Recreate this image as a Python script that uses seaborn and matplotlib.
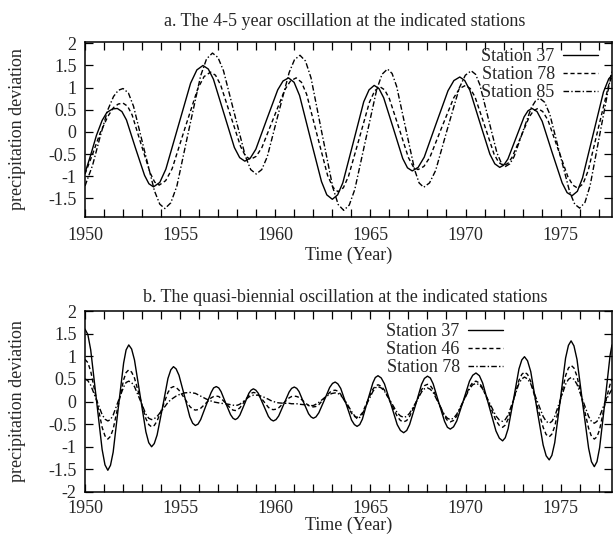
import matplotlib
matplotlib.use('Agg')
import matplotlib.pyplot as plt
import seaborn as sns
from matplotlib.ticker import MultipleLocator, FuncFormatter

# ---- panel a: 4-5 year oscillation ----
YEAR_A37 = [1950.0, 1950.3, 1950.6, 1950.9, 1951.15, 1951.45,
            1951.7, 1951.94, 1952.18, 1952.65, 1953.13, 1953.36,
            1953.6, 1953.93, 1954.25, 1954.9, 1955.55, 1955.88,
            1956.2, 1956.48, 1956.75, 1957.3, 1957.85, 1958.13,
            1958.4, 1958.69, 1958.98, 1959.55, 1960.13, 1960.41,
            1960.7, 1960.99, 1961.28, 1961.85, 1962.43, 1962.71,
            1963.0, 1963.28, 1963.55, 1964.1, 1964.65, 1964.93,
            1965.2, 1965.45, 1965.7, 1966.2, 1966.7, 1966.95,
            1967.2, 1967.51, 1967.83, 1968.45, 1969.08, 1969.39,
            1969.7, 1969.96, 1970.23, 1970.75, 1971.28, 1971.54,
            1971.8, 1972.01, 1972.23, 1972.65, 1973.08, 1973.29,
            1973.5, 1973.76, 1974.03, 1974.55, 1975.08, 1975.34,
            1975.6, 1975.88, 1976.15, 1976.7, 1977.25, 1977.53, 1977.7]
DEV_A37 = [-0.93, -0.52, -0.08, 0.26, 0.44, 0.52,
           0.53, 0.46, 0.27, -0.36, -0.98, -1.17,
           -1.24, -1.14, -0.84, 0.13, 1.10, 1.40,
           1.50, 1.42, 1.19, 0.42, -0.35, -0.58,
           -0.66, -0.59, -0.39, 0.28, 0.95, 1.15,
           1.22, 1.12, 0.82, -0.15, -1.12, -1.42,
           -1.52, -1.42, -1.15, -0.24, 0.68, 0.95,
           1.05, 0.98, 0.77, 0.09, -0.60, -0.81,
           -0.88, -0.80, -0.57, 0.18, 0.93, 1.16,
           1.24, 1.16, 0.94, 0.22, -0.50, -0.72,
           -0.80, -0.75, -0.61, -0.14, 0.34, 0.48,
           0.53, 0.46, 0.24, -0.46, -1.15, -1.37,
           -1.44, -1.34, -1.04, -0.07, 0.90, 1.20, 1.28]

YEAR_A78 = [1950.0, 1950.4, 1950.8, 1951.2, 1951.5, 1951.75,
            1952.0, 1952.24, 1952.48, 1952.95, 1953.43, 1953.66,
            1953.9, 1954.24, 1954.58, 1955.25, 1955.93, 1956.26,
            1956.6, 1956.86, 1957.13, 1957.65, 1958.18, 1958.44,
            1958.7, 1959.0, 1959.3, 1959.9, 1960.5, 1960.8,
            1961.1, 1961.38, 1961.65, 1962.2, 1962.75, 1963.03,
            1963.3, 1963.58, 1963.85, 1964.4, 1964.95, 1965.23,
            1965.5, 1965.75, 1966.0, 1966.5, 1967.0, 1967.25,
            1967.5, 1967.81, 1968.13, 1968.75, 1969.38, 1969.69,
            1970.0, 1970.25, 1970.5, 1971.0, 1971.5, 1971.75,
            1972.0, 1972.23, 1972.45, 1972.9, 1973.35, 1973.58,
            1973.8, 1974.06, 1974.33, 1974.85, 1975.38, 1975.64,
            1975.9, 1976.18, 1976.45, 1977.0, 1977.55, 1977.7]
DEV_A78 = [-0.95, -0.50, -0.02, 0.35, 0.55, 0.63,
           0.65, 0.58, 0.38, -0.28, -0.93, -1.13,
           -1.20, -1.10, -0.83, 0.08, 0.98, 1.25,
           1.35, 1.28, 1.06, 0.37, -0.33, -0.55,
           -0.62, -0.55, -0.35, 0.30, 0.95, 1.15,
           1.22, 1.12, 0.85, -0.07, -0.98, -1.25,
           -1.35, -1.26, -1.00, -0.17, 0.67, 0.93,
           1.02, 0.95, 0.75, 0.09, -0.58, -0.78,
           -0.85, -0.78, -0.57, 0.10, 0.77, 0.98,
           1.05, 0.98, 0.79, 0.15, -0.50, -0.69,
           -0.76, -0.71, -0.57, -0.12, 0.34, 0.48,
           0.53, 0.46, 0.27, -0.37, -1.01, -1.20,
           -1.27, -1.17, -0.87, 0.12, 1.10, 1.25]

YEAR_A85 = [1950.0, 1950.4, 1950.8, 1951.2, 1951.5, 1951.75,
            1952.0, 1952.28, 1952.55, 1953.1, 1953.65, 1953.93,
            1954.2, 1954.51, 1954.83, 1955.45, 1956.08, 1956.39,
            1956.7, 1956.99, 1957.28, 1957.85, 1958.43, 1958.71,
            1959.0, 1959.29, 1959.58, 1960.15, 1960.73, 1961.01,
            1961.3, 1961.59, 1961.88, 1962.45, 1963.03, 1963.31,
            1963.6, 1963.89, 1964.18, 1964.75, 1965.33, 1965.61,
            1965.9, 1966.14, 1966.38, 1966.85, 1967.33, 1967.56,
            1967.8, 1968.11, 1968.43, 1969.05, 1969.68, 1969.99,
            1970.3, 1970.53, 1970.75, 1971.2, 1971.65, 1971.88,
            1972.1, 1972.33, 1972.55, 1973.0, 1973.45, 1973.68,
            1973.9, 1974.16, 1974.43, 1974.95, 1975.48, 1975.74,
            1976.0, 1976.28, 1976.55, 1977.1, 1977.65, 1977.7]
DEV_A85 = [-1.22, -0.75, -0.10, 0.50, 0.80, 0.94,
           0.98, 0.88, 0.58, -0.38, -1.33, -1.63,
           -1.73, -1.60, -1.22, 0.03, 1.27, 1.65,
           1.78, 1.68, 1.38, 0.42, -0.55, -0.85,
           -0.95, -0.85, -0.56, 0.39, 1.34, 1.63,
           1.73, 1.60, 1.22, -0.02, -1.26, -1.64,
           -1.77, -1.65, -1.30, -0.18, 0.95, 1.30,
           1.42, 1.32, 1.03, 0.09, -0.86, -1.15,
           -1.25, -1.15, -0.87, 0.07, 1.00, 1.28,
           1.38, 1.30, 1.07, 0.30, -0.47, -0.70,
           -0.78, -0.72, -0.56, -0.01, 0.54, 0.70,
           0.76, 0.67, 0.40, -0.48, -1.36, -1.63,
           -1.72, -1.59, -1.21, 0.04, 1.29, 1.36]

# ---- panel b: quasi-biennial oscillation ----
YEAR_B = [1950.0, 1950.15, 1950.3, 1950.6, 1950.9, 1951.05,
          1951.2, 1951.34, 1951.48, 1951.75, 1952.03, 1952.16,
          1952.3, 1952.45, 1952.6, 1952.9, 1953.2, 1953.35,
          1953.5, 1953.64, 1953.79, 1954.08, 1954.36, 1954.51,
          1954.65, 1954.79, 1954.94, 1955.23, 1955.51, 1955.66,
          1955.8, 1955.94, 1956.08, 1956.35, 1956.63, 1956.76,
          1956.9, 1957.03, 1957.15, 1957.4, 1957.65, 1957.78,
          1957.9, 1958.02, 1958.14, 1958.38, 1958.61, 1958.73,
          1958.85, 1958.98, 1959.11, 1959.38, 1959.64, 1959.77,
          1959.9, 1960.04, 1960.18, 1960.45, 1960.73, 1960.86,
          1961.0, 1961.13, 1961.25, 1961.5, 1961.75, 1961.88,
          1962.0, 1962.14, 1962.29, 1962.58, 1962.86, 1963.01,
          1963.15, 1963.29, 1963.44, 1963.73, 1964.01, 1964.16,
          1964.3, 1964.44, 1964.58, 1964.85, 1965.13, 1965.26,
          1965.4, 1965.57, 1965.74, 1966.08, 1966.41, 1966.58,
          1966.75, 1966.91, 1967.06, 1967.38, 1967.69, 1967.84,
          1968.0, 1968.15, 1968.3, 1968.6, 1968.9, 1969.05,
          1969.2, 1969.37, 1969.54, 1969.88, 1970.21, 1970.38,
          1970.55, 1970.73, 1970.9, 1971.25, 1971.6, 1971.78,
          1971.95, 1972.09, 1972.24, 1972.53, 1972.81, 1972.96,
          1973.1, 1973.26, 1973.43, 1973.75, 1974.08, 1974.24,
          1974.4, 1974.54, 1974.69, 1974.98, 1975.26, 1975.41,
          1975.55, 1975.7, 1975.86, 1976.16, 1976.47, 1976.62,
          1976.77, 1976.91, 1977.05, 1977.33, 1977.6, 1977.7]
DEV_B37 = [1.60, 1.48, 1.14, 0.04, -1.06, -1.40,
           -1.52, -1.41, -1.12, -0.14, 0.85, 1.14,
           1.25, 1.16, 0.92, 0.13, -0.67, -0.91,
           -1.00, -0.93, -0.74, -0.12, 0.51, 0.70,
           0.77, 0.72, 0.58, 0.12, -0.34, -0.48,
           -0.53, -0.50, -0.40, -0.10, 0.20, 0.30,
           0.33, 0.30, 0.22, -0.04, -0.29, -0.37,
           -0.40, -0.37, -0.30, -0.06, 0.18, 0.25,
           0.28, 0.25, 0.18, -0.08, -0.33, -0.40,
           -0.43, -0.40, -0.32, -0.06, 0.21, 0.29,
           0.32, 0.29, 0.22, -0.03, -0.27, -0.34,
           -0.37, -0.34, -0.25, 0.03, 0.31, 0.40,
           0.43, 0.39, 0.29, -0.06, -0.41, -0.51,
           -0.55, -0.51, -0.39, 0.01, 0.41, 0.53,
           0.57, 0.52, 0.39, -0.06, -0.51, -0.64,
           -0.69, -0.64, -0.51, -0.07, 0.38, 0.51,
           0.56, 0.52, 0.39, -0.03, -0.44, -0.57,
           -0.61, -0.56, -0.43, 0.01, 0.45, 0.58,
           0.63, 0.57, 0.41, -0.12, -0.65, -0.81,
           -0.87, -0.80, -0.60, 0.06, 0.72, 0.92,
           0.99, 0.90, 0.66, -0.15, -0.96, -1.20,
           -1.29, -1.19, -0.91, 0.03, 0.96, 1.24,
           1.34, 1.23, 0.93, -0.05, -1.03, -1.33,
           -1.44, -1.33, -1.02, 0.00, 1.02, 1.25]
DEV_B46 = [0.93, 0.86, 0.67, 0.05, -0.57, -0.76,
           -0.83, -0.77, -0.61, -0.07, 0.48, 0.64,
           0.70, 0.65, 0.52, 0.07, -0.38, -0.51,
           -0.56, -0.53, -0.43, -0.12, 0.20, 0.30,
           0.33, 0.31, 0.25, 0.07, -0.11, -0.17,
           -0.19, -0.18, -0.15, -0.04, 0.08, 0.11,
           0.12, 0.11, 0.07, -0.04, -0.15, -0.19,
           -0.20, -0.18, -0.14, 0.00, 0.14, 0.18,
           0.20, 0.19, 0.15, 0.01, -0.13, -0.17,
           -0.18, -0.17, -0.14, -0.03, 0.08, 0.11,
           0.12, 0.11, 0.09, 0.00, -0.09, -0.11,
           -0.12, -0.11, -0.07, 0.07, 0.20, 0.24,
           0.25, 0.23, 0.16, -0.05, -0.26, -0.33,
           -0.35, -0.32, -0.25, 0.01, 0.27, 0.34,
           0.37, 0.34, 0.25, -0.04, -0.33, -0.42,
           -0.45, -0.42, -0.33, -0.04, 0.26, 0.35,
           0.38, 0.35, 0.26, -0.04, -0.33, -0.42,
           -0.45, -0.42, -0.32, 0.00, 0.32, 0.42,
           0.45, 0.41, 0.30, -0.06, -0.42, -0.53,
           -0.57, -0.52, -0.39, 0.04, 0.47, 0.60,
           0.65, 0.60, 0.44, -0.07, -0.57, -0.73,
           -0.78, -0.72, -0.55, 0.01, 0.57, 0.74,
           0.80, 0.74, 0.56, -0.02, -0.59, -0.77,
           -0.83, -0.78, -0.62, -0.05, 0.38, 0.50]
DEV_B78 = [0.50, 0.46, 0.36, 0.04, -0.29, -0.39,
           -0.43, -0.40, -0.30, 0.01, 0.32, 0.42,
           0.45, 0.42, 0.33, 0.03, -0.28, -0.37,
           -0.40, -0.38, -0.33, -0.18, -0.02, 0.04,
           0.08, 0.12, 0.15, 0.19, 0.20, 0.19,
           0.18, 0.15, 0.12, 0.06, 0.01, -0.01,
           -0.02, -0.03, -0.04, -0.05, -0.07, -0.08,
           -0.09, -0.08, -0.06, 0.02, 0.10, 0.12,
           0.14, 0.14, 0.14, 0.10, 0.05, 0.02,
           0.00, -0.02, -0.03, -0.04, -0.04, -0.05,
           -0.05, -0.05, -0.06, -0.07, -0.08, -0.09,
           -0.09, -0.06, -0.02, 0.08, 0.16, 0.18,
           0.19, 0.18, 0.14, -0.02, -0.22, -0.31,
           -0.38, -0.35, -0.28, -0.02, 0.22, 0.30,
           0.33, 0.30, 0.23, -0.01, -0.25, -0.32,
           -0.35, -0.33, -0.26, -0.03, 0.21, 0.28,
           0.30, 0.27, 0.20, -0.05, -0.30, -0.37,
           -0.40, -0.37, -0.28, 0.00, 0.28, 0.37,
           0.40, 0.37, 0.28, -0.02, -0.32, -0.41,
           -0.44, -0.40, -0.30, 0.05, 0.40, 0.50,
           0.54, 0.50, 0.39, 0.03, -0.33, -0.44,
           -0.48, -0.44, -0.33, 0.03, 0.38, 0.49,
           0.53, 0.49, 0.38, 0.03, -0.33, -0.44,
           -0.48, -0.44, -0.33, -0.02, 0.20, 0.27]

TITLE_A = 'a. The 4-5 year oscillation at the indicated stations'
TITLE_B = 'b. The quasi-biennial oscillation at the indicated stations'

sns.set_style('ticks')
plt.rcParams['font.family'] = ['Liberation Serif', 'DejaVu Serif']
plt.rcParams['axes.unicode_minus'] = False

W, H = 613, 535
fig = plt.figure(figsize=(W / 100, H / 100), dpi=100)
ax_a = fig.add_axes([85 / W, 1 - 217 / H, 527 / W, 175 / H])
ax_b = fig.add_axes([85 / W, 1 - 492 / H, 527 / W, 181 / H])

SOLID = '-'
DASHED = (0, (3, 2))
DASHDOT = (0, (4, 1.6, 1, 1.6))


def draw(ax, series, ylim, leg_xy, title, title_y, xpad, tpad):
    for name, years, devs, ls in series:
        sns.lineplot(x=years, y=devs, ax=ax, color='black', linewidth=1.0,
                     linestyle=ls, label=name, estimator=None, sort=False)
    ax.set_xlim(1950, 1977.7)
    ax.set_ylim(*ylim)
    ax.xaxis.set_major_locator(MultipleLocator(5))
    ax.xaxis.set_minor_locator(MultipleLocator(1))
    ax.yaxis.set_major_locator(MultipleLocator(0.5))
    ax.yaxis.set_major_formatter(FuncFormatter(lambda v, p: '%g' % v))
    ax.tick_params(which='both', direction='in', top=True, right=True,
                   length=6, width=0.9, labelsize=13, color='black')
    ax.tick_params(axis='x', pad=tpad)
    ax.tick_params(axis='y', pad=6)
    for sp in ax.spines.values():
        sp.set_linewidth(1.1)
        sp.set_color('black')
    ax.set_xlabel('Time (Year)', fontsize=13, labelpad=xpad)
    ax.set_ylabel('precipitation deviation', fontsize=13, labelpad=16)
    ax.legend(loc='upper right', bbox_to_anchor=(leg_xy[0] / W, 1 - leg_xy[1] / H),
              bbox_transform=fig.transFigure, frameon=False, markerfirst=False,
              fontsize=13, handlelength=1.95, handletextpad=0.45,
              labelspacing=0.06, borderpad=0, borderaxespad=0)
    fig.text(345 / W, 1 - title_y / H, title, ha='center', va='center', fontsize=13)


draw(ax_a, [('Station 37', YEAR_A37, DEV_A37, SOLID),
            ('Station 78', YEAR_A78, DEV_A78, DASHED),
            ('Station 85', YEAR_A85, DEV_A85, DASHDOT)],
     (-1.92, 2.03), (598, 48), TITLE_A, 22, 2, 7)
draw(ax_b, [('Station 37', YEAR_B, DEV_B37, SOLID),
            ('Station 46', YEAR_B, DEV_B46, DASHED),
            ('Station 78', YEAR_B, DEV_B78, DASHDOT)],
     (-2, 2), (503, 323), TITLE_B, 297, -0.5, 6)

fig.savefig('out.png', dpi=100)
